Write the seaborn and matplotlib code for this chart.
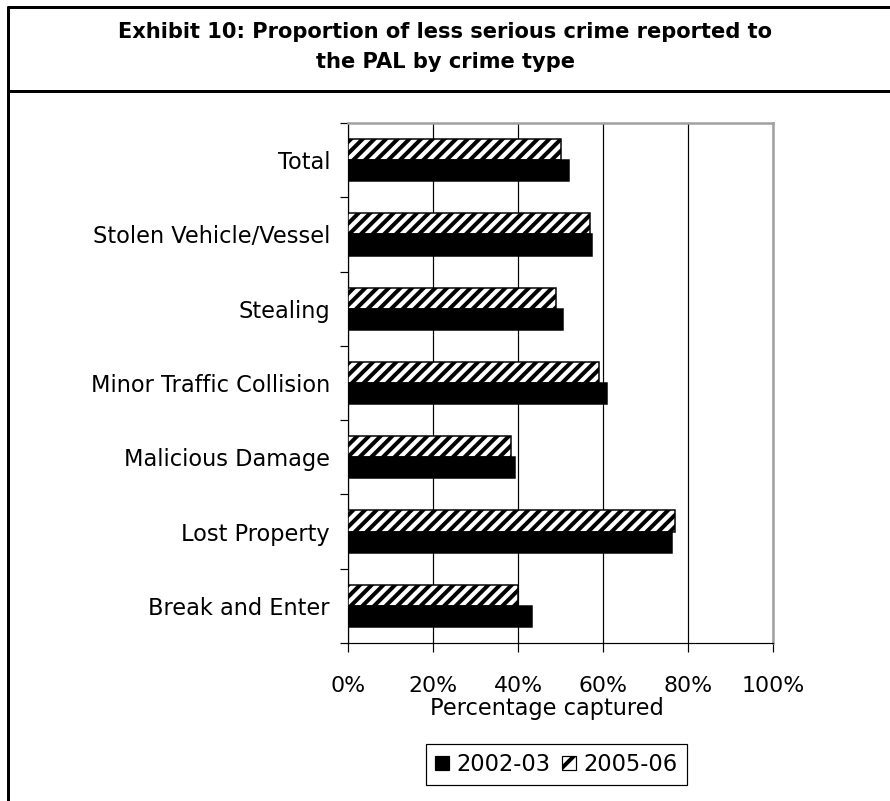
import matplotlib
matplotlib.use('Agg')
import matplotlib.pyplot as plt
import seaborn as sns
import pandas as pd
from matplotlib.patches import Patch
from matplotlib.lines import Line2D
from matplotlib.ticker import FixedLocator, PercentFormatter

categories = ['Total', 'Stolen Vehicle/Vessel', 'Stealing', 'Minor Traffic Collision',
              'Malicious Damage', 'Lost Property', 'Break and Enter']
values_2002_03 = [52.0, 57.5, 50.5, 61.0, 39.3, 76.2, 43.4]
values_2005_06 = [50.0, 57.0, 49.0, 59.0, 38.3, 77.0, 40.0]
periods = ['2002-03', '2005-06']
x_ticks = [0, 20, 40, 60, 80, 100]
title = 'Exhibit 10: Proportion of less serious crime reported to\nthe PAL by crime type'
x_label = 'Percentage captured'

DPI = 70
W, H = 890, 801


def px(v):
    return v * 72 / DPI


sns.set_theme(style='white')
plt.rcParams['font.family'] = ['DejaVu Sans']
plt.rcParams['text.color'] = 'black'
plt.rcParams['hatch.linewidth'] = px(4)
plt.rcParams['hatch.color'] = 'black'

df = pd.DataFrame({
    'Crime type': categories * 2,
    'Percentage': values_2002_03 + values_2005_06,
    'Period': [periods[0]] * len(categories) + [periods[1]] * len(categories),
})

fig = plt.figure(figsize=(W / DPI, H / DPI), dpi=DPI)
fig.patch.set_facecolor('white')
L, R, T, B = 348, 773, 123, 643
ax = fig.add_axes([L / W, 1 - B / H, (R - L) / W, (B - T) / H])

sns.barplot(data=df, y='Crime type', x='Percentage', hue='Period',
            hue_order=[periods[1], periods[0]], order=categories, orient='h',
            width=0.57, ax=ax, palette={periods[1]: 'white', periods[0]: 'black'},
            edgecolor='black', linewidth=px(1.5), legend=False, errorbar=None,
            zorder=3)
for bar in ax.containers[0]:
    bar.set_hatch('//')

ax.set_xlim(0, 100)
ax.set_ylim(len(categories) - 0.5, -0.5)
ax.xaxis.set_major_locator(FixedLocator(x_ticks))
ax.xaxis.set_major_formatter(PercentFormatter(decimals=0))
ax.set_axisbelow(True)
ax.grid(axis='x', color='black', linewidth=px(1.2))
ax.grid(axis='y', visible=False)

ax.yaxis.set_minor_locator(FixedLocator([i - 0.5 for i in range(len(categories) + 1)]))
ax.tick_params(axis='y', which='major', length=0, pad=px(18), labelsize=px(22.5), labelcolor='black')
ax.tick_params(axis='y', which='minor', direction='out', length=px(8), width=px(1.2), color='black', left=True)
ax.tick_params(axis='x', which='major', direction='out', length=px(9), width=px(1.2), color='black',
               bottom=True, pad=px(24), labelsize=px(22), labelcolor='black')

for s in ['left', 'bottom']:
    ax.spines[s].set_color('black')
    ax.spines[s].set_linewidth(px(1.2))
for s in ['top', 'right']:
    ax.spines[s].set_color('#a0a0a0')
    ax.spines[s].set_linewidth(px(2.5))

ax.set_ylabel('')
ax.set_xlabel(x_label, fontsize=px(22.5), color='black')
ax.xaxis.set_label_coords((547 - L) / (R - L), (B - 697) / (B - T))

fig.text(445 / W, 1 - 47 / H, title, ha='center', va='center', fontweight='bold',
         fontsize=px(21), linespacing=1.6, color='black')

lw_frame = px(3)
fig.add_artist(Line2D([8 / W, 8 / W], [1 - 7 / H, 0], color='black', linewidth=lw_frame,
                      transform=fig.transFigure))
fig.add_artist(Line2D([8 / W, 1], [1 - 7 / H, 1 - 7 / H], color='black', linewidth=lw_frame,
                      transform=fig.transFigure))
fig.add_artist(Line2D([8 / W, 1], [1 - 91 / H, 1 - 91 / H], color='black', linewidth=lw_frame,
                      transform=fig.transFigure))

handles = [Patch(facecolor='black', edgecolor='black', linewidth=px(1.2), label=periods[0]),
           Patch(facecolor='white', edgecolor='black', linewidth=px(1.2), hatch='/', label=periods[1])]
leg = fig.legend(handles=handles, loc='center', bbox_to_anchor=(556.5 / W, 1 - 764.5 / H), ncol=2,
                 frameon=True, fancybox=False, framealpha=1, edgecolor='black',
                 fontsize=px(22.5), handlelength=0.6, handleheight=0.6, handletextpad=0.35,
                 columnspacing=0.5, borderpad=0.4, labelcolor='black')
leg.get_frame().set_linewidth(px(1.2))

fig.savefig('out.png', dpi=DPI, facecolor='white')
